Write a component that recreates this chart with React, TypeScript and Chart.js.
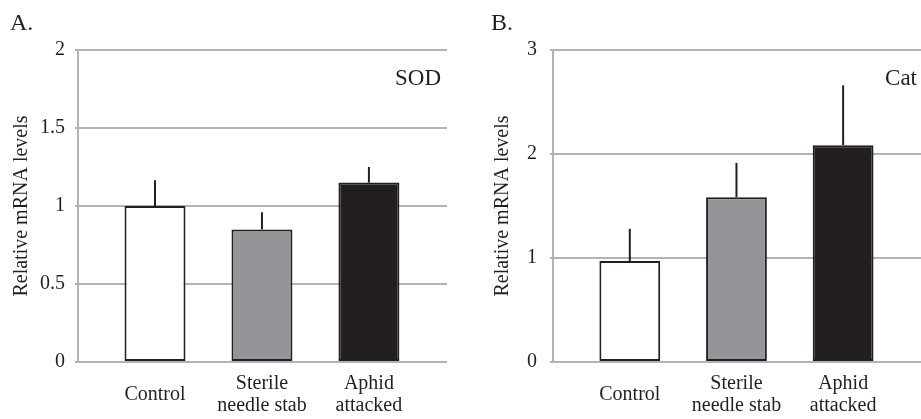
import React, { useEffect, useRef } from 'react';
import { Chart, registerables } from 'chart.js';

Chart.register(...registerables);

const categories: string[][] = [['Control'], ['Sterile', 'needle stab'], ['Aphid', 'attacked']];
const sodValues = [1.0, 0.85, 1.15];
const sodErrors = [0.165, 0.11, 0.1];
const catValues = [0.97, 1.585, 2.085];
const catErrors = [0.31, 0.33, 0.575];
const sodTicks = [0, 0.5, 1, 1.5, 2];
const catTicks = [0, 1, 2, 3];
const barColors = ['#ffffff', '#939598', '#231f20'];

const FONT = "'Liberation Serif', 'Times New Roman', serif";
const TEXT = '#231f20';
const GRID = '#b1b3b6';

const errorBarPlugin = {
  id: 'errorBars',
  afterDatasetsDraw(chart: any, _args: any, opts: any) {
    const { ctx } = chart;
    const meta = chart.getDatasetMeta(0);
    const ds = chart.data.datasets[0];
    ctx.save();
    ctx.strokeStyle = opts.color || TEXT;
    ctx.lineWidth = opts.width || 2;
    meta.data.forEach((bar: any, i: number) => {
      const v = ds.data[i].y;
      const e = opts.errors[i];
      const yTop = chart.scales.y.getPixelForValue(v + e);
      ctx.beginPath();
      ctx.moveTo(bar.x, bar.y);
      ctx.lineTo(bar.x, yTop);
      ctx.stroke();
    });
    ctx.restore();
  },
};

const panelTextPlugin = {
  id: 'panelText',
  afterDraw(chart: any, _args: any, opts: any) {
    const { ctx, chartArea } = chart;
    ctx.save();
    ctx.fillStyle = TEXT;
    ctx.textBaseline = 'alphabetic';
    ctx.font = `24px ${FONT}`;
    ctx.textAlign = 'left';
    ctx.fillText(opts.letter, opts.letterX, opts.letterY);
    ctx.font = `23px ${FONT}`;
    ctx.textAlign = 'right';
    ctx.fillText(opts.gene, chartArea.right - opts.geneRight, opts.geneY);
    ctx.restore();
  },
};

function makeConfig(
  values: number[],
  errors: number[],
  ticks: number[],
  yMax: number,
  axisWidth: number,
  titlePad: number,
  tickPad: number,
  rightPad: number,
  letter: string,
  letterX: number,
  gene: string,
  geneRight: number
): any {
  return {
    type: 'bar',
    data: {
      datasets: [
        {
          data: values.map((v, i) => ({ x: i + 1, y: v })),
          backgroundColor: barColors,
          borderColor: TEXT,
          borderWidth: 2,
          borderSkipped: false,
          categoryPercentage: 0.57,
          barPercentage: 1,
        },
      ],
    },
    options: {
      responsive: false,
      animation: false,
      devicePixelRatio: 1,
      layout: { padding: { top: 50, right: rightPad, bottom: 0, left: 0 } },
      plugins: {
        legend: { display: false },
        tooltip: { enabled: false },
        errorBars: { errors, color: TEXT, width: 2 },
        panelText: { letter, letterX, letterY: 30, gene, geneRight, geneY: 85 },
      },
      scales: {
        x: {
          type: 'linear',
          min: 0.28,
          max: 3.73,
          offset: false,
          afterBuildTicks: (s: any) => {
            s.ticks = categories.map((_, i) => ({ value: i + 1 }));
          },
          afterFit: (s: any) => {
            s.height = 57;
          },
          ticks: {
            callback: (v: number) => categories[Math.round(v) - 1],
            font: { family: FONT, size: 20, lineHeight: 1.1 },
            color: TEXT,
            padding: 22,
            maxRotation: 0,
            autoSkip: false,
            crossAlign: 'center',
          },
          grid: { display: false, drawTicks: false },
          border: { display: false },
        },
        y: {
          min: 0,
          max: yMax,
          afterBuildTicks: (s: any) => {
            s.ticks = ticks.map((v) => ({ value: v }));
          },
          afterFit: (s: any) => {
            s.width = axisWidth;
          },
          ticks: {
            callback: (v: number) => String(v),
            font: { family: FONT, size: 20 },
            color: TEXT,
            padding: tickPad,
          },
          grid: { color: GRID, lineWidth: 2, tickLength: 3, drawTicks: true },
          border: { color: GRID, width: 2 },
          title: {
            display: true,
            text: 'Relative mRNA levels',
            font: { family: FONT, size: 20 },
            color: TEXT,
            padding: { top: titlePad, bottom: 0 },
          },
        },
      },
    },
    plugins: [errorBarPlugin, panelTextPlugin],
  };
}

export default function App() {
  const refA = useRef<HTMLCanvasElement>(null);
  const refB = useRef<HTMLCanvasElement>(null);

  useEffect(() => {
    const a = new Chart(
      refA.current!,
      makeConfig(sodValues, sodErrors, sodTicks, 2, 78, 10, 10, 23, 'A.', 10, 'SOD', 6)
    );
    const b = new Chart(
      refB.current!,
      makeConfig(catValues, catErrors, catTicks, 3, 83, 21, 13, 0, 'B.', 21, 'Cat', 4)
    );
    return () => {
      a.destroy();
      b.destroy();
    };
  }, []);

  return (
    <div
      style={{
        position: 'fixed',
        left: 0,
        top: 0,
        width: 921,
        height: 419,
        overflow: 'hidden',
        background: '#ffffff',
      }}
    >
      <canvas
        ref={refA}
        width={470}
        height={419}
        style={{ position: 'absolute', left: 0, top: 0, width: 470, height: 419 }}
      />
      <canvas
        ref={refB}
        width={451}
        height={419}
        style={{ position: 'absolute', left: 470, top: 0, width: 451, height: 419 }}
      />
    </div>
  );
}
